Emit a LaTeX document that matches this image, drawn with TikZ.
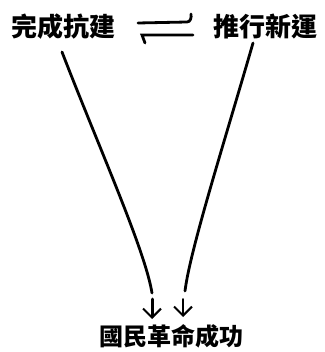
\documentclass[tikz,border=0pt]{standalone}
\usepackage{fontspec}
\newfontfamily\cjk{Noto Sans CJK TC}
\usetikzlibrary{arrows.meta}
\begin{document}
\begin{tikzpicture}[x=1pt,y=-1pt,
  lbl/.style={font=\cjk\bfseries\fontsize{26}{26}\selectfont, inner sep=0pt},
  lblb/.style={font=\cjk\bfseries\fontsize{24}{24}\selectfont, inner sep=0pt},
  ink/.style={line width=2.8pt, line cap=round},
  tipline/.style={line cap=round, -{Straight Barb[length=9pt,width=18pt,line width=2pt]}}]
\useasboundingbox (0,0) rectangle (324,352);
\node[lbl] (L) at (63,27) {完成抗建};
\node[lbl] (R) at (265,27) {推行新運};
\node[lblb] (B) at (171,336) {國民革命成功};
% equilibrium harpoons
\coordinate (h1a) at (138,23);
\coordinate (h1b) at (187,22);
\coordinate (h1c) at (191,14);
\coordinate (h2a) at (142,35);
\coordinate (h2b) at (193,35);
\coordinate (h2c) at (145,43);
\draw[ink] (h1a) -- (h1b) to[out=0,in=-80] (h1c);
\draw[ink] (h2c) -- (h2a) -- (h2b);
% converging lines
\coordinate (l0) at (62,52);
\coordinate (l1) at (152,293);
\coordinate (r0) at (253,43);
\coordinate (r1) at (185,291);
\draw[ink] (l0) .. controls (100,150) and (145,250) .. (l1);
\draw[ink] (r0) .. controls (225,140) and (190,250) .. (r1);
% short arrows
\coordinate (a0) at (152,299);
\coordinate (a1) at (152,319);
\coordinate (b0) at (183,299);
\coordinate (b1) at (183,317);
\draw[tipline, line width=3pt] (a0) -- (a1);
\draw[tipline, line width=1.8pt] (b0) -- (b1);
\end{tikzpicture}
\end{document}
